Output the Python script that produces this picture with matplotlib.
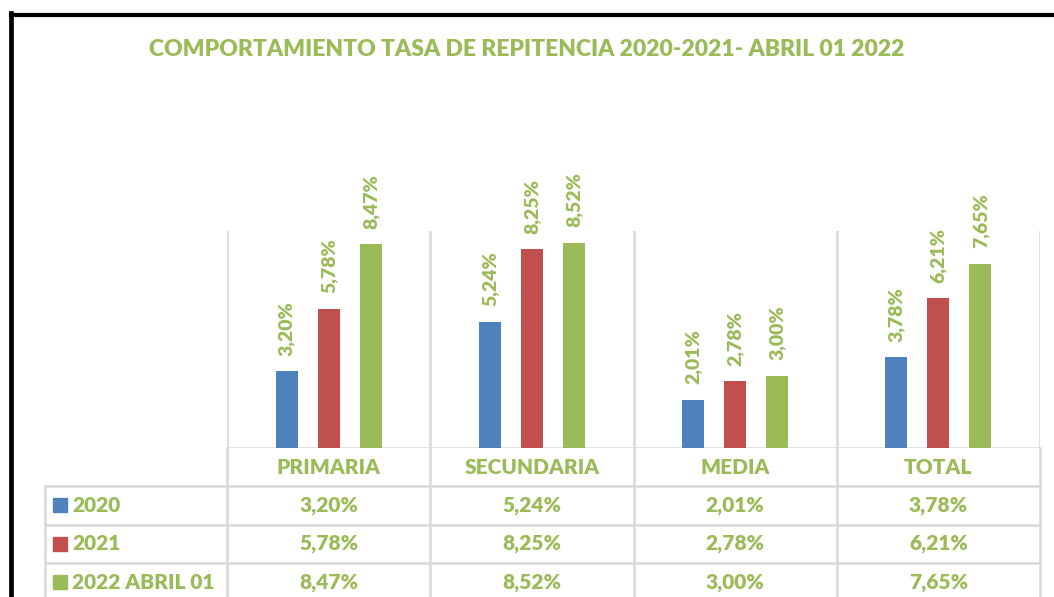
import matplotlib.pyplot as plt
from matplotlib.lines import Line2D
import numpy as np

# Datos
categorias = ['PRIMARIA', 'SECUNDARIA', 'MEDIA', 'TOTAL']
series = ['2020', '2021', '2022 ABRIL 01']
tasa_2020 = [3.20, 5.24, 2.01, 3.78]
tasa_2021 = [5.78, 8.25, 2.78, 6.21]
tasa_2022 = [8.47, 8.52, 3.00, 7.65]

valores = [tasa_2020, tasa_2021, tasa_2022]
colores = ['#4F81BD', '#C0504D', '#9BBB59']
verde = '#9BBB59'
gris = '#D9D9D9'

plt.rcParams['font.family'] = ['Lato', 'DejaVu Sans']
plt.rcParams['font.weight'] = 'bold'


def fmt(v):
    return f'{v:.2f}%'.replace('.', ',')


W, H = 1054, 597
fig = plt.figure(figsize=(W / 100, H / 100), dpi=100)

# Marco negro (izquierda y arriba)
fig.add_artist(Line2D([10.5 / W, 10.5 / W], [0, 1 - 12.5 / H], color='black', lw=3.4,
                      transform=fig.transFigure, solid_capstyle='projecting'))
fig.add_artist(Line2D([10.5 / W, 1], [1 - 14.5 / H, 1 - 14.5 / H], color='black', lw=3.0,
                      transform=fig.transFigure))

fig.text(526.5 / W, 1 - 49 / H, 'COMPORTAMIENTO TASA DE REPITENCIA 2020-2021- ABRIL 01 2022',
         ha='center', va='center', color=verde, fontsize=16.5, fontweight='heavy')

# Grafico de barras
ax_l, ax_r, ax_t, ax_b = 227, 1040, 231, 448
ax = fig.add_axes([ax_l / W, 1 - ax_b / H, (ax_r - ax_l) / W, (ax_b - ax_t) / H])
x = np.arange(len(categorias))
desp = 0.207
ancho = 0.108
for i, (vals, c) in enumerate(zip(valores, colores)):
    pos = x + (i - 1) * desp
    ax.bar(pos, vals, width=ancho, color=c, zorder=3)
    for xp, v in zip(pos, vals):
        ax.annotate(fmt(v), (xp, v), xytext=(0, 11), textcoords='offset points',
                    rotation=90, ha='center', va='bottom', color=verde,
                    fontsize=14, fontweight='heavy', annotation_clip=False)

ax.set_xlim(-0.5, len(categorias) - 0.5)
ax.set_ylim(0, 9)
for xl in np.arange(-0.5, len(categorias), 1.0):
    ax.axvline(xl, color=gris, lw=1.8, zorder=1)
for s in ax.spines.values():
    s.set_visible(False)
ax.axhline(0, color=gris, lw=1.8, zorder=2)
ax.set_xticks([])
ax.set_yticks([])

# Tabla de datos
col_label = 182 / 203
row_h = 38.3
tb_l = 45
tb = fig.add_axes([tb_l / W, 0, (ax_r - tb_l) / W, (H - ax_b) / H])
tb.set_xlim(-0.5 - col_label, len(categorias) - 0.5)
n_filas = (H - ax_b) / row_h
tb.set_ylim(n_filas, 0)
tb.axis('off')

x0 = -0.5 - col_label
for r in range(1, len(series) + 1):
    tb.plot([x0, len(categorias) - 0.5], [r, r], color=gris, lw=1.8, clip_on=False)
tb.plot([x0, x0], [1, n_filas], color=gris, lw=1.8, clip_on=False)
for xl in np.arange(-0.5, len(categorias), 1.0):
    tb.plot([xl, xl], [0, n_filas], color=gris, lw=1.8, clip_on=False)

for j, cat in enumerate(categorias):
    tb.text(j, 0.5, cat, ha='center', va='center', color=verde, fontsize=15, fontweight='heavy')
for r, (nombre, vals, c) in enumerate(zip(series, valores, colores)):
    yy = r + 1.5
    tb.plot(x0 + 14.5 / 203, yy, marker='s', markersize=9.5, color=c, clip_on=False)
    tb.text(x0 + 27 / 203, yy, nombre, ha='left', va='center', color=verde,
            fontsize=15, fontweight='heavy')
    for j, v in enumerate(vals):
        tb.text(j, yy, fmt(v), ha='center', va='center', color=verde,
                fontsize=15, fontweight='heavy')

fig.savefig('out.png', dpi=100)
